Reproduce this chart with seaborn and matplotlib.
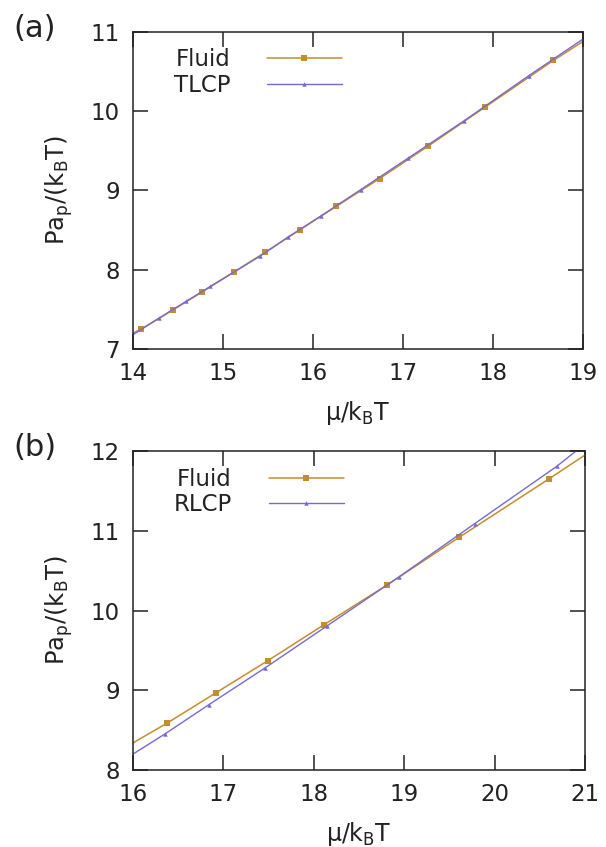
import pandas as pd
import matplotlib
matplotlib.use("Agg")
import matplotlib.pyplot as plt
import seaborn as sns

# --- panel (a): fluid vs TLCP (first and last entries are the curve ends at the frame)
mu_fluid_a = [14.0, 14.09, 14.44, 14.77, 15.12, 15.47, 15.85, 16.26, 16.74, 17.28, 17.91, 18.67, 19.0]
p_fluid_a = [7.20, 7.25, 7.49, 7.72, 7.97, 8.22, 8.50, 8.80, 9.15, 9.56, 10.05, 10.64, 10.88]
mu_tlcp = [14.0, 14.29, 14.59, 14.86, 15.41, 15.72, 16.09, 16.53, 17.06, 17.68, 18.40, 19.0]
p_tlcp = [7.18, 7.39, 7.60, 7.79, 8.17, 8.41, 8.68, 9.01, 9.41, 9.88, 10.45, 10.91]

# --- panel (b): fluid vs RLCP
mu_fluid_b = [16.0, 16.38, 16.92, 17.49, 18.11, 18.81, 19.61, 20.60, 21.0]
p_fluid_b = [8.34, 8.59, 8.97, 9.37, 9.82, 10.32, 10.92, 11.65, 11.95]
mu_rlcp = [16.0, 16.35, 16.84, 17.46, 18.15, 18.94, 19.78, 20.69, 21.0]
p_rlcp = [8.20, 8.45, 8.82, 9.28, 9.81, 10.42, 11.09, 11.81, 12.09]

c_fluid = "#c48d2d"
c_lcp = "#7869cf"
ink = "#222222"

sns.set_style("ticks")
plt.rcParams["font.family"] = ["DejaVu Sans"]
plt.rcParams["mathtext.default"] = "regular"
plt.rcParams["mathtext.fontset"] = "dejavusans"

fig = plt.figure(figsize=(6.06, 8.47), dpi=100)
ax_a = fig.add_axes([0.2195, 0.588, 0.7426, 0.3743])
ax_b = fig.add_axes([0.2195, 0.0909, 0.7459, 0.3766])

panels = [
    (ax_a, "(a)", "TLCP", mu_fluid_a, p_fluid_a, mu_tlcp, p_tlcp, (14, 19), (7, 11)),
    (ax_b, "(b)", "RLCP", mu_fluid_b, p_fluid_b, mu_rlcp, p_rlcp, (16, 21), (8, 12)),
]

for ax, tag, name, xf, yf, xl, yl, xlim, ylim in panels:
    df_f = pd.DataFrame({"mu": xf, "P": yf})
    df_l = pd.DataFrame({"mu": xl, "P": yl})
    sns.lineplot(data=df_f, x="mu", y="P", ax=ax, color=c_fluid, lw=1.1,
                 marker="s", markersize=4, markeredgewidth=0,
                 markevery=slice(1, -1), label="Fluid")
    sns.lineplot(data=df_l, x="mu", y="P", ax=ax, color=c_lcp, lw=1.0,
                 marker="^", markersize=3.2, markeredgewidth=0,
                 markevery=slice(1, -1), label=name)

    ax.set_xlim(*xlim)
    ax.set_ylim(*ylim)
    ax.set_xticks(range(xlim[0], xlim[1] + 1))
    ax.set_yticks(range(ylim[0], ylim[1] + 1))
    ax.tick_params(direction="in", length=11, width=1.1, top=True, right=True,
                   labelsize=16.5, pad=9.5, colors=ink)
    for s in ax.spines.values():
        s.set_linewidth(1.1)
        s.set_color(ink)

    ax.set_xlabel("μ/k$_{B}$T", fontsize=17, labelpad=10, color=ink)
    ax.set_ylabel("Pa$_{p}$/(k$_{B}$T)", fontsize=17.5, labelpad=11, color=ink)

    ax.legend(loc="upper left", bbox_to_anchor=(0.09, 0.948), frameon=False,
              markerfirst=False, handlelength=3.3, handletextpad=1.6,
              labelspacing=0.1, borderpad=0, borderaxespad=0, fontsize=16.5,
              labelcolor=ink)

    ax.text(-0.265, 1.01, tag, transform=ax.transAxes, fontsize=22,
            ha="left", va="center", color=ink)

fig.savefig("out.png", dpi=100)
